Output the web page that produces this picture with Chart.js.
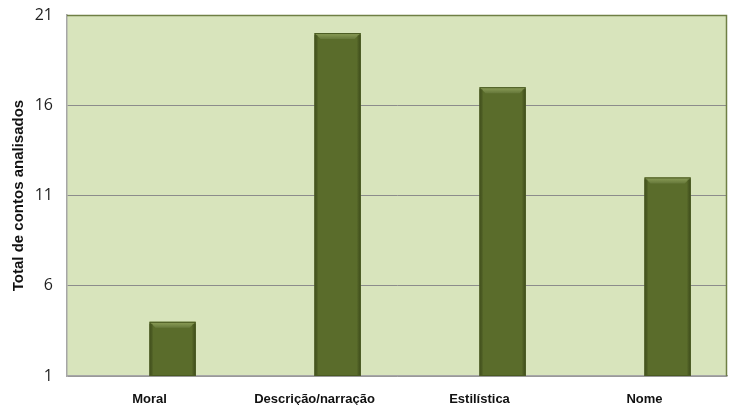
<!DOCTYPE html>
<html>
<head>
<meta charset="utf-8">
<script src="https://cdn.jsdelivr.net/npm/chart.js@4"></script>
<style>
  html, body { margin: 0; padding: 0; background: #fff; }
  #wrap { width: 730px; height: 405px; }
</style>
</head>
<body>
<div id="wrap"><canvas id="c" width="730" height="405"></canvas></div>
<script>
/* ── Dados ── */
const CATEGORIAS = ['Moral', 'Descrição/narração', 'Estilística', 'Nome'];
const VAZIO = [null, null, null, null];   // série vazia (Excel agrupado)
const TOTAL = [4, 20, 17, 12];
const Y_MIN = 1, Y_MAX = 21, Y_PASSO = 5;

const PLOT_BG = '#d8e4bc';
const BAR_COR = '#5a6c2b';

/* fundo + borda da área do gráfico */
const plotBg = {
  id: 'plotBg',
  beforeDraw(chart) {
    const { ctx, chartArea: a } = chart;
    ctx.save();
    ctx.fillStyle = PLOT_BG;
    ctx.fillRect(a.left, a.top, a.right - a.left, a.bottom - a.top);
    ctx.restore();
  },
  afterDraw(chart) {
    const { ctx, chartArea: a } = chart;
    ctx.save();
    ctx.lineWidth = 1.5;
    ctx.strokeStyle = '#6f7f45';
    ctx.beginPath();
    ctx.moveTo(a.left, a.top + 0.5); ctx.lineTo(a.right - 0.5, a.top + 0.5); ctx.lineTo(a.right - 0.5, a.bottom);
    ctx.stroke();
    ctx.restore();
  }
};

/* chanfro (bevel) nas barras */
const bevel = {
  id: 'bevel',
  afterDatasetsDraw(chart) {
    const { ctx, chartArea: a } = chart;
    chart.getDatasetMeta(1).data.forEach(bar => {
      if (bar.skip) return;
      const l = bar.x - bar.width / 2, r = bar.x + bar.width / 2, t = bar.y;
      const b = Math.min(bar.base, a.bottom);
      const d = 6;
      ctx.save();
      // faixa superior clara
      let g = ctx.createLinearGradient(0, t, 0, t + d);
      g.addColorStop(0, '#8ea05a'); g.addColorStop(1, '#66783a');
      ctx.fillStyle = g;
      ctx.beginPath();
      ctx.moveTo(l, t); ctx.lineTo(r, t); ctx.lineTo(r - d, t + d); ctx.lineTo(l + d, t + d); ctx.closePath();
      ctx.fill();
      // laterais escuras
      g = ctx.createLinearGradient(l, 0, l + 4, 0);
      g.addColorStop(0, 'rgba(50,62,20,0.8)'); g.addColorStop(1, 'rgba(50,62,20,0)');
      ctx.fillStyle = g;
      ctx.fillRect(l, t + 2, 4, b - t - 2);
      g = ctx.createLinearGradient(r, 0, r - 4, 0);
      g.addColorStop(0, 'rgba(50,62,20,0.8)'); g.addColorStop(1, 'rgba(50,62,20,0)');
      ctx.fillStyle = g;
      ctx.fillRect(r - 4, t + 2, 4, b - t - 2);
      ctx.strokeStyle = '#4a5a22';
      ctx.lineWidth = 1;
      ctx.strokeRect(l + 0.5, t + 0.5, r - l - 1, b - t - 1);
      ctx.restore();
    });
  }
};

new Chart(document.getElementById('c'), {
  type: 'bar',
  data: {
    labels: CATEGORIAS,
    datasets: [
      { data: VAZIO, backgroundColor: BAR_COR, barPercentage: 1, categoryPercentage: 0.56 },
      { data: TOTAL, backgroundColor: BAR_COR, borderWidth: 0, barPercentage: 1, categoryPercentage: 0.56 }
    ]
  },
  options: {
    responsive: false, animation: false,
    layout: { padding: { top: 15, right: 3, left: 0, bottom: 0 } },
    plugins: { legend: { display: false }, tooltip: { enabled: false } },
    scales: {
      x: {
        afterFit: s => { s.height = 29; },
        grid: { display: false, drawTicks: false },
        border: { color: '#a6a6a6', width: 1.5 },
        ticks: { color: '#111', padding: 16, font: { family: 'Liberation Sans', size: 13, weight: 'bold' } }
      },
      y: {
        min: Y_MIN, max: Y_MAX,
        afterFit: s => { s.width = 67; s.paddingTop = 0; s.paddingBottom = 0; },
        afterBuildTicks: s => {
          s.ticks = [];
          for (let v = Y_MIN; v <= Y_MAX; v += Y_PASSO) s.ticks.push({ value: v });
        },
        grid: { color: '#8c8c8c', drawTicks: false, lineWidth: 1 },
        border: { color: '#a6a6a6', width: 1.5 },
        ticks: { color: '#1f1f1f', padding: 14, font: { family: 'Open Sans', size: 16 } },
        title: {
          display: true, text: 'Total de contos analisados', color: '#111',
          font: { family: 'Liberation Sans', size: 15, weight: 'bold' },
          padding: { top: 10, bottom: 0 }
        }
      }
    }
  },
  plugins: [plotBg, bevel]
});
</script>
</body>
</html>
